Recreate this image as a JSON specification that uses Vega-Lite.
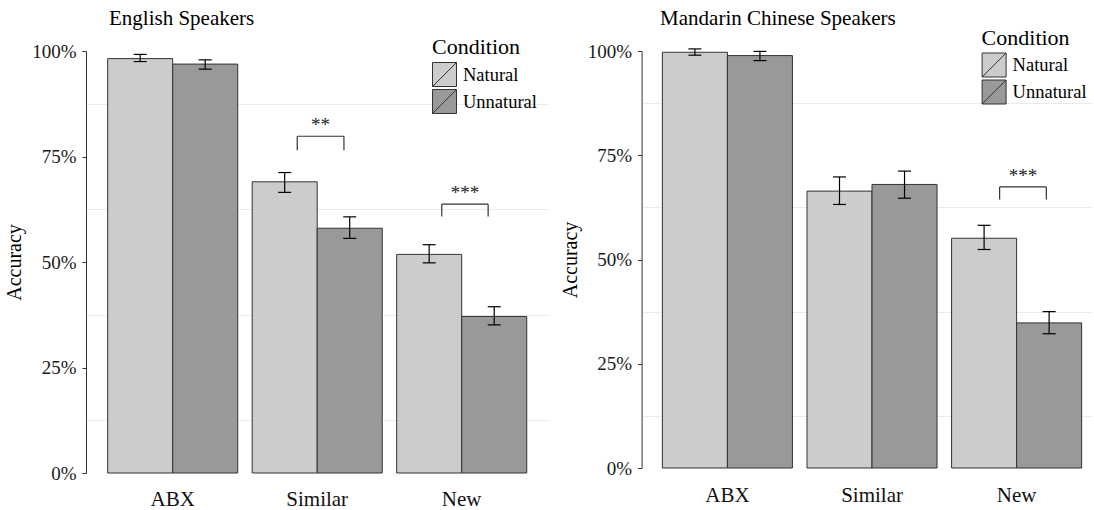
{
  "$schema": "https://vega.github.io/schema/vega-lite/v6.json",
  "background": "white",
  "padding": {"left": 4, "top": 8, "right": 0, "bottom": 0},
  "bounds": "flush",
  "spacing": 92.6,
  "config": {
    "font": "Liberation Serif",
    "view": {"stroke": null},
    "axis": {"labelFont": "Liberation Serif", "titleFont": "Liberation Serif"},
    "legend": {"labelFont": "Liberation Serif", "titleFont": "Liberation Serif"},
    "title": {"font": "Liberation Serif"}
  },
  "datasets": {
    "en": [
      {"task": "ABX", "condition": "Natural", "acc": 0.982, "lo": 0.975, "hi": 0.992},
      {"task": "ABX", "condition": "Unnatural", "acc": 0.969, "lo": 0.957, "hi": 0.979},
      {"task": "Similar", "condition": "Natural", "acc": 0.690, "lo": 0.665, "hi": 0.712},
      {"task": "Similar", "condition": "Unnatural", "acc": 0.580, "lo": 0.556, "hi": 0.607},
      {"task": "New", "condition": "Natural", "acc": 0.518, "lo": 0.498, "hi": 0.541},
      {"task": "New", "condition": "Unnatural", "acc": 0.371, "lo": 0.351, "hi": 0.394}
    ],
    "zh": [
      {"task": "ABX", "condition": "Natural", "acc": 0.997, "lo": 0.990, "hi": 1.005},
      {"task": "ABX", "condition": "Unnatural", "acc": 0.989, "lo": 0.977, "hi": 0.999},
      {"task": "Similar", "condition": "Natural", "acc": 0.664, "lo": 0.632, "hi": 0.698},
      {"task": "Similar", "condition": "Unnatural", "acc": 0.680, "lo": 0.647, "hi": 0.712},
      {"task": "New", "condition": "Natural", "acc": 0.551, "lo": 0.524, "hi": 0.582},
      {"task": "New", "condition": "Unnatural", "acc": 0.348, "lo": 0.322, "hi": 0.375}
    ],
    "en_sig": [
      {"task": "Similar", "xmin": 1.862, "xmax": 2.185, "xmid": 2.0235, "ytop": 0.798, "ytip": 0.765, "label": "**"},
      {"task": "New", "xmin": 2.862, "xmax": 3.183, "xmid": 3.0225, "ytop": 0.637, "ytip": 0.608, "label": "***"}
    ],
    "zh_sig": [
      {"task": "New", "xmin": 2.876, "xmax": 3.199, "xmid": 3.0375, "ytop": 0.674, "ytip": 0.644, "label": "***"}
    ]
  },
  "hconcat": [
    {
      "width": 462.4,
      "height": 422,
      "title": {"text": "English Speakers", "anchor": "start", "frame": "group", "dx": 23, "fontSize": 21, "fontWeight": "normal", "color": "black", "offset": 8},
      "resolve": {"scale": {"x": "independent"}},
      "layer": [
        {
          "data": {"name": "en"},
          "encoding": {
            "x": {"field": "task", "type": "nominal", "sort": ["ABX", "Similar", "New"], "title": null,
                  "scale": {"paddingInner": 0.1, "paddingOuter": 0.15},
                  "axis": {"domain": false, "ticks": false, "labelAngle": 0, "labelFontSize": 21, "labelColor": "#111111", "labelPadding": 15}},
            "xOffset": {"field": "condition", "type": "nominal", "sort": ["Natural", "Unnatural"], "scale": {"paddingInner": 0, "paddingOuter": 0}}
          },
          "layer": [
            {
              "mark": {"type": "bar", "stroke": "#333333", "strokeWidth": 1},
              "encoding": {
                "y": {"field": "acc", "type": "quantitative", "title": "Accuracy",
                      "scale": {"domain": [0, 1], "nice": false},
                      "axis": {
                        "values": [0, 0.125, 0.25, 0.375, 0.5, 0.625, 0.75, 0.875, 1],
                        "format": ".0%",
                        "labelExpr": "datum.value * 4 % 1 == 0 ? datum.label : ''",
                        "grid": true,
                        "gridColor": {"condition": {"test": "datum.value * 4 % 1 != 0", "value": "#ebebeb"}, "value": "rgba(0,0,0,0)"},
                        "gridWidth": 1,
                        "tickOpacity": {"condition": {"test": "datum.value * 4 % 1 != 0", "value": 0}, "value": 1},
                        "tickSize": 4,
                        "tickColor": "#333333",
                        "domainColor": "#333333",
                        "labelFontSize": 19,
                        "labelColor": "#1a1a1a",
                        "labelPadding": 6,
                        "titleFontSize": 20,
                        "titleFontWeight": "normal",
                        "titleColor": "black",
                        "titlePadding": 7
                      }},
                "fill": {"field": "condition", "type": "nominal",
                         "scale": {"domain": ["Natural", "Unnatural"], "range": ["#cccccc", "#999999"]},
                         "legend": {"orient": "none", "legendX": 346, "legendY": -14, "title": "Condition",
                                    "titleFontSize": 22, "titleFontWeight": "normal", "titleColor": "black", "titlePadding": 3,
                                    "labelFontSize": 18.5, "labelColor": "black", "labelOffset": 6,
                                    "symbolType": "M-1,-1H1V1H-1Z M-1,1L1,-1", "symbolSize": 576,
                                    "symbolStrokeColor": "#333333", "symbolStrokeWidth": 1, "symbolOpacity": 1, "rowPadding": -5.5}}
              }
            },
            {
              "mark": {"type": "rule", "color": "black", "strokeWidth": 1.2},
              "encoding": {
                "y": {"field": "lo", "type": "quantitative", "title": "Accuracy", "scale": {"domain": [0, 1], "nice": false}},
                "y2": {"field": "hi"}
              }
            },
            {
              "mark": {"type": "tick", "orient": "horizontal", "size": 13, "thickness": 1.2, "color": "black", "opacity": 1},
              "encoding": {"y": {"field": "lo", "type": "quantitative", "title": "Accuracy", "scale": {"domain": [0, 1], "nice": false}}}
            },
            {
              "mark": {"type": "tick", "orient": "horizontal", "size": 13, "thickness": 1.2, "color": "black", "opacity": 1},
              "encoding": {"y": {"field": "hi", "type": "quantitative", "title": "Accuracy", "scale": {"domain": [0, 1], "nice": false}}}
            }
          ]
        },
        {
          "data": {"name": "en_sig"},
          "layer": [
            {
              "mark": {"type": "rule", "color": "#333333", "strokeWidth": 1.2},
              "encoding": {
                "x": {"field": "xmin", "type": "quantitative", "scale": {"domain": [0.4, 3.6], "nice": false, "zero": false}, "axis": null},
                "x2": {"field": "xmax"},
                "y": {"field": "ytop", "type": "quantitative", "title": "Accuracy", "scale": {"domain": [0, 1], "nice": false}}
              }
            },
            {
              "mark": {"type": "rule", "color": "#333333", "strokeWidth": 1.2},
              "encoding": {
                "x": {"field": "xmin", "type": "quantitative", "scale": {"domain": [0.4, 3.6], "nice": false, "zero": false}, "axis": null},
                "y": {"field": "ytip", "type": "quantitative", "title": "Accuracy", "scale": {"domain": [0, 1], "nice": false}},
                "y2": {"field": "ytop"}
              }
            },
            {
              "mark": {"type": "rule", "color": "#333333", "strokeWidth": 1.2},
              "encoding": {
                "x": {"field": "xmax", "type": "quantitative", "scale": {"domain": [0.4, 3.6], "nice": false, "zero": false}, "axis": null},
                "y": {"field": "ytip", "type": "quantitative", "title": "Accuracy", "scale": {"domain": [0, 1], "nice": false}},
                "y2": {"field": "ytop"}
              }
            },
            {
              "mark": {"type": "text", "fontSize": 19, "baseline": "alphabetic", "dy": -5, "color": "#222222"},
              "encoding": {
                "x": {"field": "xmid", "type": "quantitative", "scale": {"domain": [0.4, 3.6], "nice": false, "zero": false}, "axis": null},
                "y": {"field": "ytop", "type": "quantitative", "title": "Accuracy", "scale": {"domain": [0, 1], "nice": false}},
                "text": {"field": "label"}
              }
            }
          ]
        }
      ]
    },
    {
      "width": 450,
      "height": 417,
      "title": {"text": "Mandarin Chinese Speakers", "anchor": "start", "frame": "group", "dx": 18.5, "fontSize": 21, "fontWeight": "normal", "color": "black", "offset": -1.5},
      "resolve": {"scale": {"x": "independent"}},
      "layer": [
        {
          "data": {"name": "zh"},
          "encoding": {
            "x": {"field": "task", "type": "nominal", "sort": ["ABX", "Similar", "New"], "title": null,
                  "scale": {"paddingInner": 0.1, "paddingOuter": 0.106, "align": 0.678},
                  "axis": {"domain": false, "ticks": false, "labelAngle": 0, "labelFontSize": 21, "labelColor": "#111111", "labelPadding": 16}},
            "xOffset": {"field": "condition", "type": "nominal", "sort": ["Natural", "Unnatural"], "scale": {"paddingInner": 0, "paddingOuter": 0}}
          },
          "layer": [
            {
              "mark": {"type": "bar", "stroke": "#333333", "strokeWidth": 1},
              "encoding": {
                "y": {"field": "acc", "type": "quantitative", "title": "Accuracy",
                      "scale": {"domain": [0, 1], "nice": false},
                      "axis": {
                        "values": [0, 0.125, 0.25, 0.375, 0.5, 0.625, 0.75, 0.875, 1],
                        "format": ".0%",
                        "labelExpr": "datum.value * 4 % 1 == 0 ? datum.label : ''",
                        "grid": true,
                        "gridColor": {"condition": {"test": "datum.value * 4 % 1 != 0", "value": "#ebebeb"}, "value": "rgba(0,0,0,0)"},
                        "gridWidth": 1,
                        "tickOpacity": {"condition": {"test": "datum.value * 4 % 1 != 0", "value": 0}, "value": 1},
                        "tickSize": 4,
                        "tickColor": "#333333",
                        "domainColor": "#333333",
                        "labelFontSize": 19,
                        "labelColor": "#1a1a1a",
                        "labelPadding": 6,
                        "titleFontSize": 20,
                        "titleFontWeight": "normal",
                        "titleColor": "black",
                        "titlePadding": 7
                      }},
                "fill": {"field": "condition", "type": "nominal",
                         "scale": {"domain": ["Natural", "Unnatural"], "range": ["#cccccc", "#999999"]},
                         "legend": {"orient": "none", "legendX": 340, "legendY": -23.5, "title": "Condition",
                                    "titleFontSize": 22, "titleFontWeight": "normal", "titleColor": "black", "titlePadding": 3,
                                    "labelFontSize": 18.5, "labelColor": "black", "labelOffset": 6,
                                    "symbolType": "M-1,-1H1V1H-1Z M-1,1L1,-1", "symbolSize": 576,
                                    "symbolStrokeColor": "#333333", "symbolStrokeWidth": 1, "symbolOpacity": 1, "rowPadding": -5.5}}
              }
            },
            {
              "mark": {"type": "rule", "color": "black", "strokeWidth": 1.2},
              "encoding": {
                "y": {"field": "lo", "type": "quantitative", "title": "Accuracy", "scale": {"domain": [0, 1], "nice": false}},
                "y2": {"field": "hi"}
              }
            },
            {
              "mark": {"type": "tick", "orient": "horizontal", "size": 13, "thickness": 1.2, "color": "black", "opacity": 1},
              "encoding": {"y": {"field": "lo", "type": "quantitative", "title": "Accuracy", "scale": {"domain": [0, 1], "nice": false}}}
            },
            {
              "mark": {"type": "tick", "orient": "horizontal", "size": 13, "thickness": 1.2, "color": "black", "opacity": 1},
              "encoding": {"y": {"field": "hi", "type": "quantitative", "title": "Accuracy", "scale": {"domain": [0, 1], "nice": false}}}
            }
          ]
        },
        {
          "data": {"name": "zh_sig"},
          "layer": [
            {
              "mark": {"type": "rule", "color": "#333333", "strokeWidth": 1.2},
              "encoding": {
                "x": {"field": "xmin", "type": "quantitative", "scale": {"domain": [0.4, 3.512], "nice": false, "zero": false}, "axis": null},
                "x2": {"field": "xmax"},
                "y": {"field": "ytop", "type": "quantitative", "title": "Accuracy", "scale": {"domain": [0, 1], "nice": false}}
              }
            },
            {
              "mark": {"type": "rule", "color": "#333333", "strokeWidth": 1.2},
              "encoding": {
                "x": {"field": "xmin", "type": "quantitative", "scale": {"domain": [0.4, 3.512], "nice": false, "zero": false}, "axis": null},
                "y": {"field": "ytip", "type": "quantitative", "title": "Accuracy", "scale": {"domain": [0, 1], "nice": false}},
                "y2": {"field": "ytop"}
              }
            },
            {
              "mark": {"type": "rule", "color": "#333333", "strokeWidth": 1.2},
              "encoding": {
                "x": {"field": "xmax", "type": "quantitative", "scale": {"domain": [0.4, 3.512], "nice": false, "zero": false}, "axis": null},
                "y": {"field": "ytip", "type": "quantitative", "title": "Accuracy", "scale": {"domain": [0, 1], "nice": false}},
                "y2": {"field": "ytop"}
              }
            },
            {
              "mark": {"type": "text", "fontSize": 19, "baseline": "alphabetic", "dy": -5, "color": "#222222"},
              "encoding": {
                "x": {"field": "xmid", "type": "quantitative", "scale": {"domain": [0.4, 3.512], "nice": false, "zero": false}, "axis": null},
                "y": {"field": "ytop", "type": "quantitative", "title": "Accuracy", "scale": {"domain": [0, 1], "nice": false}},
                "text": {"field": "label"}
              }
            }
          ]
        }
      ]
    }
  ],
  "resolve": {"scale": {"fill": "independent"}, "legend": {"fill": "independent"}}
}
